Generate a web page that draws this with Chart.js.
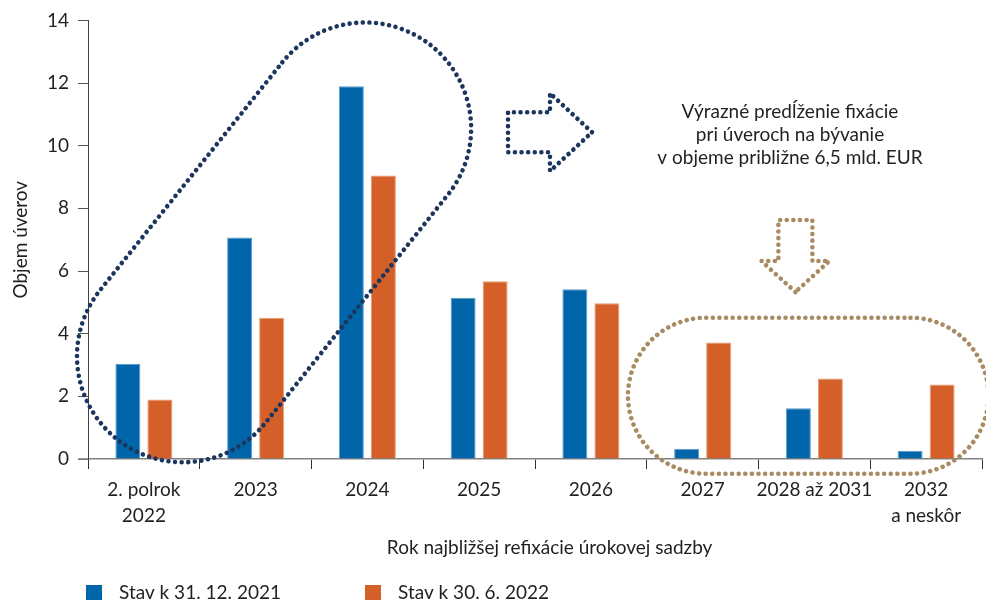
<!DOCTYPE html>
<html>
<head>
<meta charset="utf-8">
<script src="https://cdn.jsdelivr.net/npm/chart.js@4.4.0/dist/chart.umd.min.js"></script>
<style>
  html, body { margin: 0; padding: 0; background: #fff; }
  #wrap { width: 986px; height: 600px; position: relative; overflow: hidden; }
</style>
</head>
<body>
<div id="wrap"><canvas id="refixChart" width="986" height="600"></canvas></div>
<script>
// Data
const categories = [['2. polrok', '2022'], '2023', '2024', '2025', '2026', '2027', '2028 až 2031', ['2032', 'a neskôr']];
const stav2021 = [3.04, 7.07, 11.9, 5.15, 5.42, 0.33, 1.62, 0.26];
const stav2022 = [1.9, 4.51, 9.05, 5.67, 4.97, 3.72, 2.57, 2.38];
const seriesLabels = ['Stav k 31. 12. 2021', 'Stav k 30. 6. 2022'];
const yTicks = [0, 2, 4, 6, 8, 10, 12, 14];
const noteLines = ['Výrazné predĺženie fixácie', 'pri úveroch na bývanie', 'v objeme približne 6,5 mld. EUR'];

const FONT = 'Lato, "Noto Sans", sans-serif';
const FS = 19;
const TEXT = '#231f20';
const BLUE = '#0065a9';
const ORANGE = '#d45f29';
const NAVY = '#1c355e';
const SAND = '#a88b62';

function dotted(ctx, color) {
    ctx.strokeStyle = color;
    ctx.lineWidth = 4.6;
    ctx.lineCap = 'round';
    ctx.setLineDash([0.01, 6.6]);
    ctx.stroke();
}

function capsule(ctx, a, b, r) {
    const ang = Math.atan2(b.y - a.y, b.x - a.x);
    ctx.beginPath();
    ctx.arc(b.x, b.y, r, ang - Math.PI / 2, ang + Math.PI / 2);
    ctx.arc(a.x, a.y, r, ang + Math.PI / 2, ang + 3 * Math.PI / 2);
    ctx.closePath();
}

function polygon(ctx, tip, pts) {
    ctx.beginPath();
    pts.forEach(([dx, dy], i) => {
        if (i === 0) ctx.moveTo(tip.x + dx, tip.y + dy);
        else ctx.lineTo(tip.x + dx, tip.y + dy);
    });
    ctx.closePath();
}

// dotted shapes, arrows, note and legend
const decorations = {
    id: 'decorations',
    beforeDatasetsDraw(chart) {
        // x axis line runs a bit past the y axis on the left
        const { ctx, chartArea } = chart;
        ctx.save();
        ctx.strokeStyle = '#808080';
        ctx.lineWidth = 1.5;
        ctx.beginPath();
        ctx.moveTo(chartArea.left - 10, chartArea.bottom);
        ctx.lineTo(chartArea.left, chartArea.bottom);
        ctx.stroke();
        ctx.restore();
    },
    afterDatasetsDraw(chart) {
        const { ctx, scales: { x, y } } = chart;
        const pt = (i, v) => ({ x: x.getPixelForValue(i), y: y.getPixelForValue(v) });

        ctx.save();
        // blue capsule round 2022-2024
        capsule(ctx, pt(0.35, 3.28), pt(1.98, 10.55), 106);
        dotted(ctx, NAVY);
        // right arrow
        polygon(ctx, pt(4.01, 10.43), [[0, 0], [-42, -39], [-42, -20], [-84, -20], [-84, 20], [-42, 20], [-42, 39]]);
        dotted(ctx, NAVY);
        // sand capsule round 2027+
        capsule(ctx, pt(5.03, 2.02), pt(6.86, 2.02), 78);
        dotted(ctx, SAND);
        // down arrow
        polygon(ctx, pt(5.83, 5.33), [[0, 0], [-34, -31], [-17, -31], [-17, -72], [17, -72], [17, -31], [34, -31]]);
        dotted(ctx, SAND);
        ctx.restore();

        // note text
        ctx.save();
        ctx.fillStyle = TEXT;
        ctx.font = FS + 'px ' + FONT;
        ctx.textAlign = 'center';
        ctx.textBaseline = 'middle';
        noteLines.forEach((line, i) => ctx.fillText(line, 790, 112 + i * 23));
        ctx.restore();
    },
    afterDraw(chart) {
        const ctx = chart.ctx;
        const legendX = [86, 365];
        ctx.save();
        ctx.font = FS + 'px ' + FONT;
        ctx.textBaseline = 'middle';
        chart.data.datasets.forEach((ds, i) => {
            ctx.fillStyle = ds.backgroundColor;
            ctx.fillRect(legendX[i], 585, 16, 16);
            ctx.fillStyle = TEXT;
            ctx.fillText(ds.label, legendX[i] + 33, 593);
        });
        ctx.restore();
    }
};

const ctx = document.getElementById('refixChart').getContext('2d');
new Chart(ctx, {
    type: 'bar',
    data: {
        labels: categories,
        datasets: [
            { label: seriesLabels[0], data: stav2021, backgroundColor: BLUE, borderColor: '#5d9bcc', borderWidth: 1 },
            { label: seriesLabels[1], data: stav2022, backgroundColor: ORANGE, borderColor: '#e79a72', borderWidth: 1 }
        ]
    },
    options: {
        responsive: false,
        animation: false,
        devicePixelRatio: 1,
        barPercentage: 0.78,
        categoryPercentage: 0.573,
        layout: { padding: { left: 0, top: 20, right: 4, bottom: 41 } },
        plugins: {
            legend: { display: false },
            tooltip: { enabled: false }
        },
        scales: {
            x: {
                offset: true,
                grid: { offset: true, drawOnChartArea: false, tickLength: 10, color: '#333', lineWidth: 1 },
                border: { color: '#808080', width: 1.5 },
                ticks: { color: TEXT, font: { family: FONT, size: FS, lineHeight: 1.37 }, padding: 8, maxRotation: 0, autoSkip: false },
                title: {
                    display: true,
                    // leading spaces nudge the title right, as in the original
                    text: '\u00a0'.repeat(6) + 'Rok najbližšej refixácie úrokovej sadzby',
                    color: TEXT,
                    font: { family: FONT, size: FS },
                    padding: { top: 0, bottom: 0 }
                },
                afterFit: s => { s.height = 100; }
            },
            y: {
                min: 0,
                max: 14,
                afterBuildTicks: s => { s.ticks = yTicks.map(v => ({ value: v })); },
                grid: { drawOnChartArea: false, tickLength: 10, color: '#555' },
                border: { color: '#444', width: 1 },
                ticks: { color: TEXT, font: { family: FONT, size: FS }, padding: 9 },
                title: {
                    display: true,
                    text: 'Objem úverov',
                    color: TEXT,
                    font: { family: FONT, size: FS },
                    padding: { top: 9, bottom: 0 }
                },
                afterFit: s => { s.width = 88; }
            }
        }
    },
    plugins: [decorations]
});
</script>
</body>
</html>
